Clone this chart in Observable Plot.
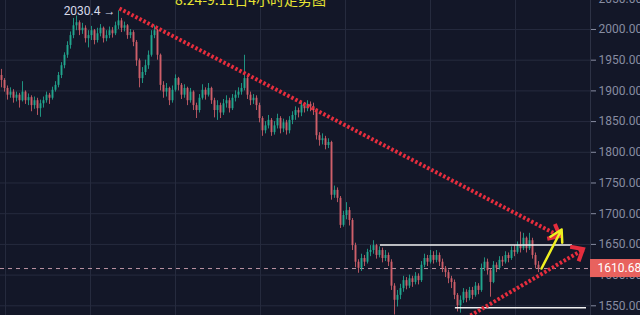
<!DOCTYPE html>
<html><head><meta charset="utf-8">
<script src="https://cdn.jsdelivr.net/npm/d3@7"></script>
<script src="https://cdn.jsdelivr.net/npm/@observablehq/plot@0.6"></script>
<style>html,body{margin:0;padding:0;background:#131728;}</style>
</head><body><div id="chart"></div>
<script>
// ---- data ----
const firstOpen = 1925;
const close = [
1917,1904,1893,1898,1888,1893,1884,1898,1884,1889,
1876,1884,1871,1879,1884,1893,1888,1901,1909,1925,
1941,1958,1974,1990,2006,2011,1998,2002,1985,1990,
1998,1982,1993,2002,1985,1990,1998,1993,2006,2014,
2002,2006,1990,1995,1979,1949,1920,1930,1941,1958,
1990,1998,1958,1909,1898,1904,1884,1901,1920,1909,
1893,1904,1884,1898,1876,1868,1888,1901,1893,1904,
1884,1868,1876,1864,1879,1884,1871,1888,1893,1898,
1904,1920,1893,1884,1888,1876,1855,1835,1843,1852,
1832,1843,1855,1838,1848,1835,1852,1860,1868,1864,
1876,1871,1878,1874,1868,1827,1819,1822,1811,1816,
1730,1738,1725,1681,1697,1705,1689,1648,1621,1611,
1627,1621,1637,1640,1648,1632,1640,1627,1632,1621,
1582,1559,1567,1578,1591,1582,1594,1588,1598,1591,
1616,1627,1621,1632,1624,1632,1621,1611,1604,1594,
1588,1567,1550,1559,1572,1562,1575,1567,1582,1575,
1611,1621,1607,1588,1616,1611,1624,1621,1632,1627,
1640,1637,1648,1643,1660,1643,1656,1632,1616,1610.68];
const high = [
1935,1920,1908,1905,1902,1898,1896,1915,1900,1895,
1892,1890,1888,1885,1890,1898,1896,1906,1915,1930,
1946,1962,1980,1996,2018,2022,2014,2010,2006,1998,
2005,2000,2002,2008,2004,1998,2004,2003,2012,2030.4,
2018,2012,2008,2000,1998,1982,1952,1938,1950,1965,
1998,2006,2000,1960,1915,1912,1906,1908,1926,1922,
1912,1910,1906,1904,1900,1880,1894,1910,1905,1912,
1906,1888,1884,1880,1886,1892,1888,1894,1900,1905,
1912,1958,1925,1898,1894,1892,1880,1858,1850,1860,
1855,1850,1862,1858,1854,1852,1858,1866,1874,1872,
1882,1880,1884,1882,1880,1870,1832,1830,1826,1822,
1818,1745,1742,1728,1704,1718,1710,1692,1652,1625,
1634,1632,1642,1648,1656,1650,1646,1644,1640,1636,
1625,1586,1575,1585,1598,1596,1600,1598,1604,1602,
1622,1634,1632,1640,1638,1640,1636,1626,1614,1608,
1598,1592,1570,1566,1578,1576,1580,1580,1588,1586,
1618,1628,1626,1610,1622,1620,1630,1630,1638,1636,
1646,1648,1654,1670,1668,1662,1668,1660,1636,1622];
const low = [
1905,1898,1885,1888,1880,1882,1872,1882,1878,1876,
1866,1870,1860,1857,1872,1880,1878,1885,1898,1905,
1920,1936,1953,1968,1985,1998,1990,1992,1978,1970,
1982,1975,1978,1988,1978,1980,1985,1986,1990,2000,
1995,1996,1984,1985,1972,1940,1905,1912,1925,1935,
1955,1985,1950,1900,1888,1890,1876,1880,1898,1900,
1886,1888,1876,1880,1868,1855,1864,1885,1885,1890,
1878,1856,1852,1855,1860,1872,1864,1868,1882,1888,
1893,1900,1886,1876,1878,1868,1848,1826,1830,1838,
1826,1828,1838,1830,1832,1828,1830,1845,1852,1856,
1858,1864,1866,1866,1860,1820,1810,1812,1804,1806,
1722,1725,1718,1676,1678,1690,1680,1640,1612,1603,
1606,1614,1618,1630,1634,1626,1628,1620,1622,1614,
1575,1535,1548,1560,1572,1576,1578,1580,1584,1584,
1588,1612,1614,1618,1618,1620,1614,1604,1596,1586,
1578,1560,1540,1538,1554,1555,1558,1560,1564,1568,
1572,1606,1600,1564,1586,1604,1608,1614,1618,1620,
1624,1630,1634,1636,1640,1636,1640,1626,1610,1604];

const yTicks = [1550, 1600, 1650, 1700, 1750, 1800, 1850, 1900, 1950, 2000, 2050];
const gridXValues = [1.33, 29.67, 58, 86.33, 114.67, 143, 171.33];
const lastPrice = 1610.68;
const peakIndex = 39;
const peakPrice = 2030.4;
const peakLabel = "2030.4 →";
const titleText = "8.24-9.11日4小时走势图";
const upperTrend = [{i: 39.3, p: 2034.2}, {i: 186.3, p: 1662.9}];
const lowerTrend = [{i: 156.3, p: 1534.2}, {i: 194, p: 1641.7}];
const yellowArrow = [{i1: 180, p1: 1610.7, i2: 186.7, p2: 1674.3}];
const hLines = [{i1: 126.3, i2: 190.3, p: 1649}, {i1: 151.3, i2: 195, p: 1547}];

// ---- chart ----
const up = "#22a88f", down = "#d0606a", red = "#e42d3d";
const xMax = 196 + 1/3;
const candles = close.map((c, i) => ({i, o: i ? close[i - 1] : firstOpen, c, h: high[i], l: low[i]}));
const col = d => d.c >= d.o ? up : down;

// arrowheads at the end of the dotted trend lines, placed through the plot's scales
function trendHeads(index, scales) {
  const g = d3.create("svg:g");
  const sx = scales.x, sy = scales.y;
  for (const line of [upperTrend, lowerTrend]) {
    const a = line[0], b = line[line.length - 1];
    const x1 = sx(a.i), y1 = sy(a.p), x2 = sx(b.i), y2 = sy(b.p);
    const ang = Math.atan2(y2 - y1, x2 - x1);
    const L = 13, spread = Math.PI / 4.5;
    const p1 = [x2 - L * Math.cos(ang - spread), y2 - L * Math.sin(ang - spread)];
    const p2 = [x2 - L * Math.cos(ang + spread), y2 - L * Math.sin(ang + spread)];
    g.append("path")
      .attr("d", `M${p1[0]},${p1[1]}L${x2},${y2}L${p2[0]},${p2[1]}`)
      .attr("fill", "none").attr("stroke", red).attr("stroke-width", 4)
      .attr("stroke-linejoin", "miter").attr("stroke-linecap", "butt");
  }
  return g.node();
}

const chart = Plot.plot({
  width: 640, height: 315,
  marginLeft: 0, marginRight: 50, marginTop: 0, marginBottom: 0,
  style: {background: "#131728", color: "#878ca1", fontFamily: "Roboto, sans-serif", fontSize: "12px"},
  x: {domain: [-1/3, xMax], axis: null},
  y: {domain: [1534.2, 2047.2], axis: null},
  marks: [
    Plot.gridY(yTicks, {stroke: "#262b3e", strokeOpacity: 1}),
    Plot.gridX(gridXValues, {stroke: "#262b3e", strokeOpacity: 1}),
    Plot.ruleX([xMax], {stroke: "#2d3245"}),
    Plot.ruleY([lastPrice], {stroke: "#d9a9b8", strokeDasharray: "4,4", strokeOpacity: 0.85}),
    Plot.ruleX(candles, {x: "i", y1: "l", y2: "h", stroke: col, strokeWidth: 1, strokeOpacity: 0.85}),
    Plot.ruleX(candles, {x: "i", y1: "o", y2: "c", stroke: col, strokeWidth: 2, strokeOpacity: 0.9}),
    Plot.ruleY(hLines, {y: "p", x1: "i1", x2: "i2", stroke: "#f2f2f2", strokeWidth: 1.5}),
    Plot.line(upperTrend, {x: "i", y: "p", stroke: red, strokeWidth: 4, strokeDasharray: "2.5,2", strokeLinecap: "butt"}),
    Plot.line(lowerTrend, {x: "i", y: "p", stroke: red, strokeWidth: 4, strokeDasharray: "2.5,2", strokeLinecap: "butt"}),
    trendHeads,
    Plot.arrow(yellowArrow, {x1: "i1", y1: "p1", x2: "i2", y2: "p2", stroke: "#eef020", strokeWidth: 2.5, headLength: 8}),
    Plot.text([peakLabel], {x: () => peakIndex, y: () => peakPrice, text: d => d, textAnchor: "end", dx: -3, fill: "#d6d9e8", fontSize: 12}),
    Plot.text([titleText], {frameAnchor: "top-left", dx: 250, dy: 4, lineAnchor: "bottom", textAnchor: "middle", text: d => d, fill: "#e8e533", fontSize: 14, fontFamily: "Noto Sans CJK SC"}),
    Plot.axisY(yTicks, {anchor: "right", tickFormat: d => d.toFixed(2), tickSize: 5, tickPadding: 3, label: null, fontSize: 12}),
    Plot.rect([lastPrice], {x1: () => xMax, x2: () => xMax + 50/3, y1: d => d - 14.7, y2: d => d + 14.7, fill: "#e8625e"}),
    Plot.text([lastPrice], {x: () => xMax, y: d => d, text: d => d.toFixed(2), textAnchor: "start", dx: 7, fill: "white", fontSize: 12})
  ]
});
document.getElementById("chart").appendChild(chart);
</script>
</body></html>
